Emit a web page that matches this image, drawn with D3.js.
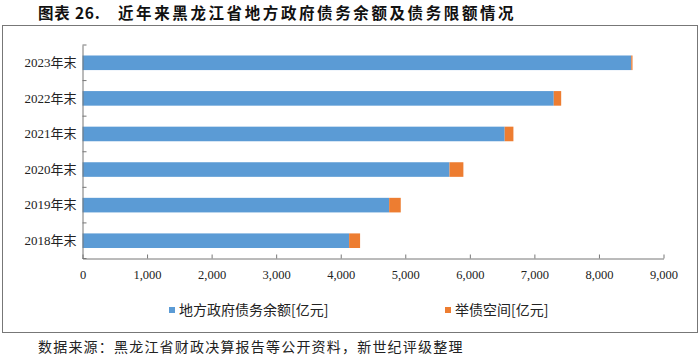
<!DOCTYPE html>
<html><head><meta charset="utf-8">
<script src="https://cdn.jsdelivr.net/npm/d3@7"></script>
<style>body{margin:0;background:#fff}svg{display:block}</style>
</head><body>
<svg id="c" width="700" height="357"></svg>
<script>
const categories = ["2023年末","2022年末","2021年末","2020年末","2019年末","2018年末"];
const debtBalance = [8500, 7300, 6540, 5685, 4750, 4130];
const debtSpace = [20, 115, 135, 215, 180, 170];
const xTicks = [0,1000,2000,3000,4000,5000,6000,7000,8000,9000];
const seriesNames = ["地方政府债务余额[亿元]","举债空间[亿元]"];
const colors = ["#5b9bd5","#ed7d31"];
const titleLabel = "图表 26.";
const titleText = "近年来黑龙江省地方政府债务余额及债务限额情况";
const sourceText = "数据来源：黑龙江省财政决算报告等公开资料，新世纪评级整理";

const svg = d3.select("#c");
const cjk = "'Noto Sans CJK SC','Noto Sans',sans-serif";
const serif = "'Liberation Serif','DejaVu Serif',serif";

svg.append("text").attr("x",38).attr("y",18.5).attr("font-family",cjk).attr("font-weight","bold")
  .attr("font-size",15.5).attr("fill","#111").attr("letter-spacing",0.8).text(titleLabel);
svg.append("text").attr("x",118).attr("y",18.5).attr("font-family",cjk).attr("font-weight","bold")
  .attr("font-size",15.5).attr("fill","#111").attr("letter-spacing",2.6).text(titleText);

svg.append("rect").attr("x",2.5).attr("y",25.5).attr("width",695).attr("height",307)
  .attr("fill","none").attr("stroke","#777").attr("stroke-width",1);

const x = d3.scaleLinear().domain([0,9000]).range([82.5,663.5]);
const y = d3.scaleBand().domain(categories).range([45,258.5]).paddingInner(0.59).paddingOuter(0.295);

const data = categories.map((c,i)=>({c, a:debtBalance[i], b:debtSpace[i]}));
const g = svg.append("g");
g.selectAll("rect.a").data(data).join("rect").attr("class","a")
  .attr("x",x(0)).attr("y",d=>y(d.c)).attr("width",d=>x(d.a)-x(0)).attr("height",y.bandwidth())
  .attr("fill",colors[0]);
g.selectAll("rect.b").data(data).join("rect").attr("class","b")
  .attr("x",d=>x(d.a)).attr("y",d=>y(d.c)).attr("width",d=>x(d.a+d.b)-x(d.a)).attr("height",y.bandwidth())
  .attr("fill",colors[1]);

// x axis
const xa = svg.append("g").attr("transform","translate(0,258.5)")
  .call(d3.axisBottom(x).tickValues(xTicks).tickSizeInner(-4).tickSizeOuter(0).tickFormat(d3.format(",")));
xa.select(".domain").attr("stroke","#777");
xa.selectAll(".tick line").attr("stroke","#777");
xa.selectAll(".tick text").attr("font-family",serif).attr("font-size",12.5).attr("fill","#222").attr("y",12);

// y axis
const ya = svg.append("g").attr("transform","translate(82.5,0)")
  .call(d3.axisLeft(y).tickSize(0).tickPadding(6));
ya.select(".domain").attr("stroke","#777");
ya.selectAll(".tick text").attr("font-family","'Liberation Serif','Noto Sans CJK SC',serif").attr("font-size",13).attr("fill","#222");
const bounds = d3.range(categories.length+1).map(i=>45 + i*(258.5-45)/categories.length);
svg.append("g").selectAll("line").data(bounds).join("line")
  .attr("x1",82.5).attr("x2",86.5).attr("y1",d=>d).attr("y2",d=>d).attr("stroke","#777");

// legend
const leg = [{x:169,name:seriesNames[0],col:colors[0]},{x:445,name:seriesNames[1],col:colors[1]}];
const lg = svg.append("g").selectAll("g").data(leg).join("g");
lg.append("rect").attr("x",d=>d.x).attr("y",307).attr("width",6).attr("height",6).attr("fill",d=>d.col);
lg.append("text").attr("x",d=>d.x+10).attr("y",315).attr("font-family",cjk).attr("font-size",14)
  .attr("fill","#222").text(d=>d.name);

svg.append("text").attr("x",38).attr("y",352).attr("font-family",cjk).attr("font-size",14)
  .attr("fill","#222").attr("letter-spacing",1.2).text(sourceText);
</script>
</body></html>
